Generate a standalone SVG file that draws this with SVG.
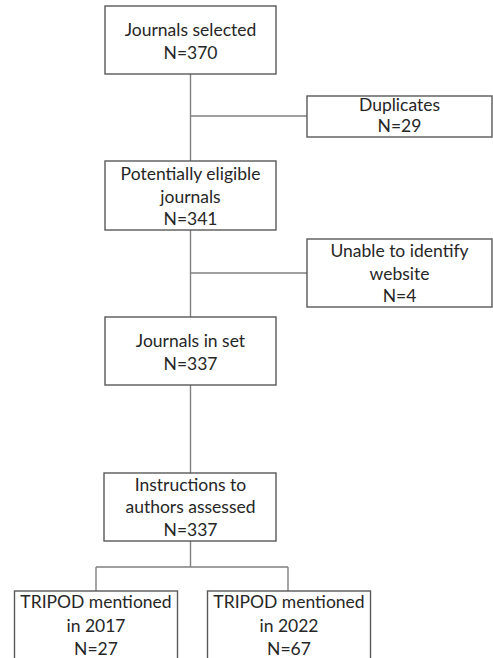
<svg xmlns="http://www.w3.org/2000/svg" width="493" height="658" viewBox="0 0 493 658">
<style>
.box{fill:#ffffff;stroke:#595959;stroke-width:1.4}
.ln{fill:none;stroke:#808080;stroke-width:1.4}
text{font-family:Lato,"Open Sans","Liberation Sans",sans-serif;font-size:17.5px;fill:#262626;text-anchor:middle}
</style>
<rect width="493" height="658" fill="#ffffff"/>
<g id="connectors">
<path class="ln" d="M190.5 74V161M190.5 230V317M190.5 385V473M190.5 541V567M191 116H307M191 273H307M96 567H288M96 567V591M288 567V591"/>
</g>
<g id="n1"><rect class="box" x="105" y="6" width="171" height="68"/><text x="190.5" y="36">Journals selected</text><text x="190.5" y="59">N=370</text></g>
<g id="n2"><rect class="box" x="307" y="96" width="185" height="41"/><text x="399.5" y="111">Duplicates</text><text x="399.5" y="132">N=29</text></g>
<g id="n3"><rect class="box" x="105" y="161" width="171" height="69"/><text x="190.5" y="180">Potentially eligible</text><text x="190.5" y="203">journals</text><text x="190.5" y="225">N=341</text></g>
<g id="n4"><rect class="box" x="307" y="239" width="185" height="68"/><text x="399.5" y="257">Unable to identify</text><text x="399.5" y="280">website</text><text x="399.5" y="302">N=4</text></g>
<g id="n5"><rect class="box" x="105" y="317" width="171" height="68"/><text x="190.5" y="347">Journals in set</text><text x="190.5" y="370">N=337</text></g>
<g id="n6"><rect class="box" x="104" y="473" width="172" height="68"/><text x="190.5" y="491">Instructions to</text><text x="190.5" y="513">authors assessed</text><text x="190.5" y="536">N=337</text></g>
<g id="n7"><rect class="box" x="14.5" y="591" width="163" height="80"/><text x="96" y="608">TRIPOD mentioned</text><text x="96" y="632">in 2017</text><text x="96" y="655">N=27</text></g>
<g id="n8"><rect class="box" x="207.5" y="591" width="163" height="80"/><text x="289" y="608">TRIPOD mentioned</text><text x="289" y="632">in 2022</text><text x="289" y="655">N=67</text></g>
</svg>
